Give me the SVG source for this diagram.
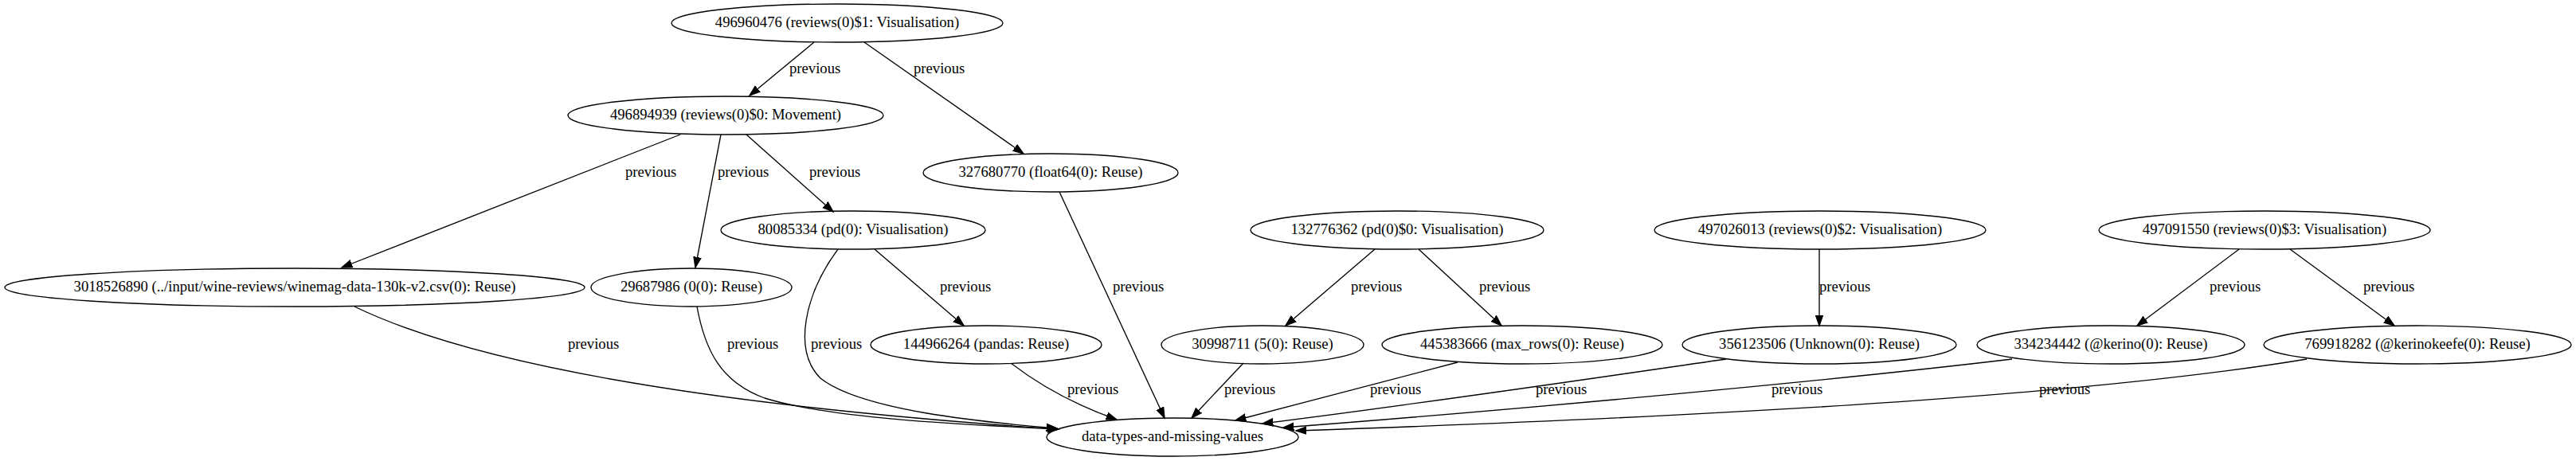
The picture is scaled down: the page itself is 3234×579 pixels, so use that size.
<svg xmlns="http://www.w3.org/2000/svg" width="3234" height="579" viewBox="0 0 3234 579">
<style>
.node ellipse{fill:none;stroke:#000;stroke-width:1.33}
.node text{font-family:"Liberation Serif","Times New Roman",serif;font-size:18.67px;text-anchor:middle;fill:#000}
.edge path{fill:none;stroke:#000;stroke-width:1.33;marker-end:url(#arr)}
.lbl{font-family:"Liberation Serif","Times New Roman",serif;font-size:18.67px;fill:#000}
</style>
<defs>
<marker id="arr" markerUnits="userSpaceOnUse" markerWidth="16" markerHeight="12" viewBox="0 -6 16 12" refX="13.3" refY="0" orient="auto">
<path d="M0,-4.67 L13.3,0 L0,4.67 Z" fill="#000" stroke="#000" stroke-width="1.33"/>
</marker>
</defs>
<rect width="3234" height="579" fill="#fff"/>
<g id="connectors" class="edge">
<path d="M1022,53 L941,120"/>
<path d="M1085,53 L1285,193"/>
<path d="M854,169 L429,336"/>
<path d="M905,169 L873,336"/>
<path d="M937,169 L1046,266"/>
<path d="M1098,313 L1210,409"/>
<path d="M1726,313 L1614,409"/>
<path d="M1781,313 L1885,409"/>
<path d="M2284,313 L2284,409"/>
<path d="M2811,313 L2683,409"/>
<path d="M2875,313 L3006,409"/>
<path d="M445,385 C600,460 900,510 1329,539"/>
<path d="M875,385 C885,440 905,480 960,500 C1040,525 1200,533 1329,539"/>
<path d="M1052,313 C1010,370 995,440 1030,475 C1080,515 1230,530 1327,538"/>
<path d="M1330,241 L1462,525"/>
<path d="M1269,456 C1300,480 1340,505 1402,527"/>
<path d="M1561,456 L1496,525"/>
<path d="M1830,455 L1551,528"/>
<path d="M2167,451 C2000,475 1800,505 1585,532"/>
<path d="M2526,451 C2300,478 1900,515 1611,537"/>
<path d="M2896,451 C2600,500 2100,525 1627,541"/>
<text class="lbl" x="991" y="92">previous</text>
<text class="lbl" x="1147" y="92">previous</text>
<text class="lbl" x="785" y="222">previous</text>
<text class="lbl" x="901" y="222">previous</text>
<text class="lbl" x="1016" y="222">previous</text>
<text class="lbl" x="1180" y="366">previous</text>
<text class="lbl" x="1397" y="366">previous</text>
<text class="lbl" x="1696" y="366">previous</text>
<text class="lbl" x="1857" y="366">previous</text>
<text class="lbl" x="2284" y="366">previous</text>
<text class="lbl" x="2774" y="366">previous</text>
<text class="lbl" x="2967" y="366">previous</text>
<text class="lbl" x="713" y="438">previous</text>
<text class="lbl" x="913" y="438">previous</text>
<text class="lbl" x="1018" y="438">previous</text>
<text class="lbl" x="1340" y="495">previous</text>
<text class="lbl" x="1537" y="495">previous</text>
<text class="lbl" x="1720" y="495">previous</text>
<text class="lbl" x="1928" y="495">previous</text>
<text class="lbl" x="2224" y="495">previous</text>
<text class="lbl" x="2560" y="495">previous</text>
</g>
<g id="n496960476" class="node"><ellipse cx="1051" cy="29" rx="208" ry="24"/><text x="1051" y="34">496960476 (reviews(0)$1: Visualisation)</text></g>
<g id="n496894939" class="node"><ellipse cx="911" cy="145" rx="198" ry="24"/><text x="911" y="150">496894939 (reviews(0)$0: Movement)</text></g>
<g id="n327680770" class="node"><ellipse cx="1319" cy="217" rx="160" ry="24"/><text x="1319" y="222">327680770 (float64(0): Reuse)</text></g>
<g id="n80085334" class="node"><ellipse cx="1071" cy="289" rx="166" ry="24"/><text x="1071" y="294">80085334 (pd(0): Visualisation)</text></g>
<g id="n132776362" class="node"><ellipse cx="1754" cy="289" rx="184" ry="24"/><text x="1754" y="294">132776362 (pd(0)$0: Visualisation)</text></g>
<g id="n497026013" class="node"><ellipse cx="2285" cy="289" rx="208" ry="24"/><text x="2285" y="294">497026013 (reviews(0)$2: Visualisation)</text></g>
<g id="n497091550" class="node"><ellipse cx="2843" cy="289" rx="208" ry="24"/><text x="2843" y="294">497091550 (reviews(0)$3: Visualisation)</text></g>
<g id="n3018526890" class="node"><ellipse cx="370" cy="361" rx="364" ry="24"/><text x="370" y="366">3018526890 (../input/wine-reviews/winemag-data-130k-v2.csv(0): Reuse)</text></g>
<g id="n29687986" class="node"><ellipse cx="868" cy="361" rx="126" ry="24"/><text x="868" y="366">29687986 (0(0): Reuse)</text></g>
<g id="n144966264" class="node"><ellipse cx="1238" cy="433" rx="145" ry="24"/><text x="1238" y="438">144966264 (pandas: Reuse)</text></g>
<g id="n30998711" class="node"><ellipse cx="1585" cy="433" rx="127" ry="24"/><text x="1585" y="438">30998711 (5(0): Reuse)</text></g>
<g id="n445383666" class="node"><ellipse cx="1911" cy="433" rx="176" ry="24"/><text x="1911" y="438">445383666 (max_rows(0): Reuse)</text></g>
<g id="n356123506" class="node"><ellipse cx="2284" cy="433" rx="172" ry="24"/><text x="2284" y="438">356123506 (Unknown(0): Reuse)</text></g>
<g id="n334234442" class="node"><ellipse cx="2650" cy="433" rx="168" ry="24"/><text x="2650" y="438">334234442 (@kerino(0): Reuse)</text></g>
<g id="n769918282" class="node"><ellipse cx="3035" cy="433" rx="193" ry="24"/><text x="3035" y="438">769918282 (@kerinokeefe(0): Reuse)</text></g>
<g id="data-types-and-missing-values" class="node"><ellipse cx="1472" cy="549" rx="158" ry="24"/><text x="1472" y="554">data-types-and-missing-values</text></g>
</svg>
